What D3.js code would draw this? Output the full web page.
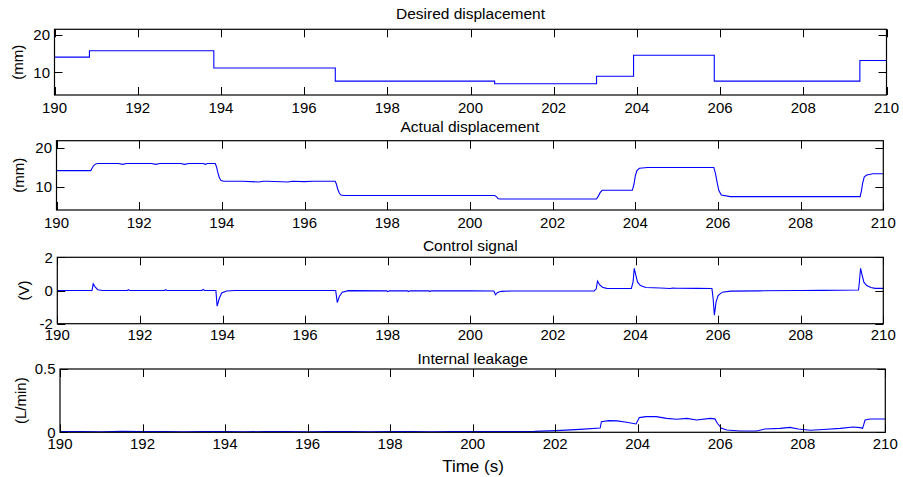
<!DOCTYPE html>
<html>
<head>
<meta charset="utf-8">
<script src="https://cdn.jsdelivr.net/npm/d3@7"></script>
<style>
  html, body { margin: 0; padding: 0; background: #fff; }
  svg { display: block; font-family: "Liberation Sans", Arial, sans-serif; }
</style>
</head>
<body>
<svg id="chart" width="903" height="477"></svg>
<script>
// ---------- data ----------
const xTicks = [190, 192, 194, 196, 198, 200, 202, 204, 206, 208, 210];

const titles = ["Desired displacement", "Actual displacement", "Control signal", "Internal leakage"];
const yLabels = ["(mm)", "(mm)", "(V)", "(L/min)"];
const yTicks1 = [10, 20];
const yTicks2 = [10, 20];
const yTicks3 = [-2, 0, 2];
const yTicks4 = [0, 0.5];

// Desired displacement (step after)
const desiredT = [190, 190.84, 193.83, 196.75, 200.58, 203.03, 203.92, 205.86, 209.36, 210];
const desiredV = [14.1, 15.8, 11.2, 7.7, 7.0, 9.0, 14.6, 7.7, 13.2, 13.2];

// Actual displacement
const actualT = [190, 190.83, 190.86, 190.9, 190.95, 191.0, 191.5, 191.6, 191.7, 192.3, 192.4, 192.5, 193.0, 193.1, 193.2, 193.55, 193.6, 193.65, 193.84,
  193.87, 193.9, 193.94, 193.98, 194.05, 194.5, 194.9, 195.0, 195.1, 195.6, 195.7, 196.0, 196.2, 196.74,
  196.77, 196.8, 196.84, 196.88, 196.95, 200.6, 200.64, 200.68, 200.72, 203.06, 203.1, 203.15, 203.2, 203.93,
  203.97, 204.0, 204.04, 204.1, 204.3, 205.9, 205.94, 205.98, 206.02, 206.08, 206.3, 209.44, 209.47, 209.5, 209.54, 209.6, 209.75, 210];
const actualV = [14.2, 14.2, 14.8, 15.5, 15.9, 16.0, 16.0, 15.8, 16.0, 16.0, 15.8, 16.0, 16.0, 15.8, 16.0, 16.0, 15.8, 16.0, 16.0,
  15.2, 13.8, 12.4, 11.7, 11.5, 11.5, 11.3, 11.5, 11.5, 11.3, 11.5, 11.4, 11.5, 11.5,
  10.8, 9.6, 8.5, 8.0, 7.9, 7.9, 7.6, 7.1, 7.0, 7.0, 7.6, 8.6, 9.2, 9.2,
  10.8, 12.8, 14.2, 14.8, 15.0, 15.0, 13.5, 11.2, 9.2, 8.0, 7.6, 7.6, 9.0, 11.0, 12.6, 13.1, 13.4, 13.4];

// Control signal
const ctrlT = [190, 190.84, 190.87, 190.92, 190.98, 191.1, 191.7, 191.72, 191.76, 192.6, 192.62, 192.66, 193.5, 193.53, 193.57, 193.84,
  193.87, 193.92, 193.98, 194.1, 194.3, 196.74, 196.78, 196.83, 196.9, 197.05, 197.98, 198.0, 198.04, 198.48, 198.5, 198.54, 199.0, 199.02, 199.06,
  200.0, 200.57, 200.61, 200.66, 200.75, 201.0, 203.0, 203.05, 203.08, 203.13, 203.2, 203.3, 203.9, 203.94, 203.97, 204.0, 204.05, 204.12,
  204.25, 204.6, 204.84, 204.9, 205.0, 205.5, 205.85, 205.88, 205.91, 205.95, 206.0, 206.1, 206.3, 207.0, 208.0, 208.5, 209.4,
  209.42, 209.45, 209.48, 209.53, 209.6, 209.7, 209.8, 210];
const ctrlV = [0, 0, 0.4, 0.2, 0.05, 0, 0, 0.05, 0, 0, 0.05, 0, 0, 0.06, 0, 0,
  -0.94, -0.5, -0.15, -0.03, 0, 0, -0.73, -0.35, -0.1, -0.01, -0.02, -0.07, -0.02, -0.02, -0.06, -0.02, -0.02, -0.06, -0.02,
  -0.02, -0.03, -0.26, -0.12, -0.05, -0.03, -0.02, 0.1, 0.57, 0.35, 0.2, 0.13, 0.12, 0.5, 1.33, 1.0, 0.5, 0.3,
  0.18, 0.15, 0.12, 0.15, 0.14, 0.13, 0.12, -0.5, -1.49, -0.7, -0.3, -0.1, -0.04, -0.02, 0.0, 0.01, 0.03,
  0.5, 1.33, 1.0, 0.5, 0.3, 0.18, 0.13, 0.13];

// Internal leakage
const leakT = [190, 190.5, 191, 191.5, 192, 192.5, 193, 193.5, 194, 194.5, 195, 195.5, 196, 196.5, 197, 197.5, 198, 198.5, 199, 199.5,
  200, 200.5, 201, 201.5, 202.03, 202.6, 203.09, 203.12, 203.3, 203.5, 203.73, 203.96, 204.04, 204.2, 204.45, 204.7, 204.94, 205.19,
  205.43, 205.75, 205.87, 205.93, 206.03, 206.16, 206.48, 206.88, 207.08, 207.45, 207.69, 207.89, 208.18, 208.5, 208.91, 209.22,
  209.39, 209.45, 209.51, 209.63, 209.95, 210];
const leakV = [0.005, 0.006, 0.004, 0.007, 0.005, 0.006, 0.004, 0.006, 0.005, 0.004, 0.006, 0.005, 0.004, 0.006, 0.005, 0.004, 0.006, 0.005, 0.004, 0.006,
  0.005, 0.006, 0.005, 0.007, 0.013, 0.023, 0.034, 0.084, 0.092, 0.09, 0.079, 0.066, 0.116, 0.124, 0.124, 0.11, 0.103, 0.11,
  0.097, 0.11, 0.106, 0.071, 0.031, 0.018, 0.01, 0.01, 0.026, 0.031, 0.039, 0.026, 0.016, 0.022, 0.031, 0.042,
  0.037, 0.031, 0.097, 0.105, 0.105, 0.105];

// ---------- layout ----------
const panels = [
  { title: titles[0], ylabel: yLabels[0], t: desiredT, v: desiredV, step: true,  ydom: [4, 21.5],  yticks: yTicks1,
    x0: 54.5, x1: 886.5, y0: 29.3, y1: 95,    titleY: 18.5, xlabY: 112.5, ylabX: 22.5 },
  { title: titles[1], ylabel: yLabels[1], t: actualT,  v: actualV,  step: false, ydom: [4.2, 21.8], yticks: yTicks2,
    x0: 56.5, x1: 883.3, y0: 140.7, y1: 210, titleY: 131.7, xlabY: 228.3, ylabX: 24 },
  { title: titles[2], ylabel: yLabels[2], t: ctrlT,    v: ctrlV,    step: false, ydom: [-2, 2],     yticks: yTicks3,
    x0: 57.3, x1: 883.3, y0: 257.3, y1: 323.7, titleY: 251, xlabY: 339.5, ylabX: 28.5 },
  { title: titles[3], ylabel: yLabels[3], t: leakT,    v: leakV,    step: false, ydom: [0, 0.5],    yticks: yTicks4,
    x0: 60, x1: 885.3, y0: 369, y1: 432.3, titleY: 363.5, xlabY: 449, ylabX: 25.5 }
];

const svg = d3.select("#chart");
const tickLen = 8;
const fs = 15;

panels.forEach(p => {
  const x = d3.scaleLinear().domain([190, 210]).range([p.x0, p.x1]);
  const y = d3.scaleLinear().domain(p.ydom).range([p.y1, p.y0]);
  const g = svg.append("g");

  // clip
  const cid = "clip" + p.y0.toFixed(0);
  svg.append("clipPath").attr("id", cid).append("rect")
    .attr("x", p.x0).attr("y", p.y0).attr("width", p.x1 - p.x0).attr("height", p.y1 - p.y0);

  // data line
  const pts = p.t.map((t, i) => [t, p.v[i]]);
  const line = d3.line().x(d => x(d[0])).y(d => y(d[1]))
    .curve(p.step ? d3.curveStepAfter : d3.curveLinear);
  g.append("path").datum(pts)
    .attr("clip-path", `url(#${cid})`)
    .attr("d", line).attr("fill", "none")
    .attr("stroke", "#0000ff").attr("stroke-width", 1.1);

  // ticks (inward, both sides)
  xTicks.forEach(t => {
    const xx = Math.round(x(t)) + 0.5;
    g.append("line").attr("x1", xx).attr("x2", xx).attr("y1", p.y1).attr("y2", p.y1 - tickLen)
      .attr("stroke", "#000").attr("stroke-width", 1);
    g.append("line").attr("x1", xx).attr("x2", xx).attr("y1", p.y0).attr("y2", p.y0 + tickLen)
      .attr("stroke", "#000").attr("stroke-width", 1);
    g.append("text").attr("x", x(t)).attr("y", p.xlabY)
      .attr("text-anchor", "middle").attr("font-size", fs).attr("fill", "#000").text(t);
  });
  p.yticks.forEach(v => {
    const yy = Math.round(y(v)) + 0.5;
    g.append("line").attr("x1", p.x0).attr("x2", p.x0 + tickLen).attr("y1", yy).attr("y2", yy)
      .attr("stroke", "#000").attr("stroke-width", 1);
    g.append("line").attr("x1", p.x1).attr("x2", p.x1 - tickLen).attr("y1", yy).attr("y2", yy)
      .attr("stroke", "#000").attr("stroke-width", 1);
    g.append("text").attr("x", p.x0 - 4.5).attr("y", y(v)).attr("dy", "0.35em")
      .attr("text-anchor", "end").attr("font-size", fs).attr("fill", "#000").text(v);
  });

  // box
  g.append("rect").attr("x", p.x0).attr("y", p.y0)
    .attr("width", p.x1 - p.x0).attr("height", p.y1 - p.y0)
    .attr("fill", "none").attr("stroke", "#000").attr("stroke-width", 1.2);

  // title
  g.append("text").attr("x", (p.x0 + p.x1) / 2).attr("y", p.titleY)
    .attr("text-anchor", "middle").attr("font-size", 15.5).attr("fill", "#000").text(p.title);

  // y label
  g.append("text")
    .attr("transform", `translate(${p.ylabX},${(p.y0 + p.y1) / 2}) rotate(-90)`)
    .attr("text-anchor", "middle").attr("font-size", fs).attr("fill", "#000").text(p.ylabel);
});

// x-axis label
svg.append("text").attr("x", 473).attr("y", 471.5).attr("text-anchor", "middle")
  .attr("font-size", 17).attr("fill", "#000").text("Time (s)");
</script>
</body>
</html>
